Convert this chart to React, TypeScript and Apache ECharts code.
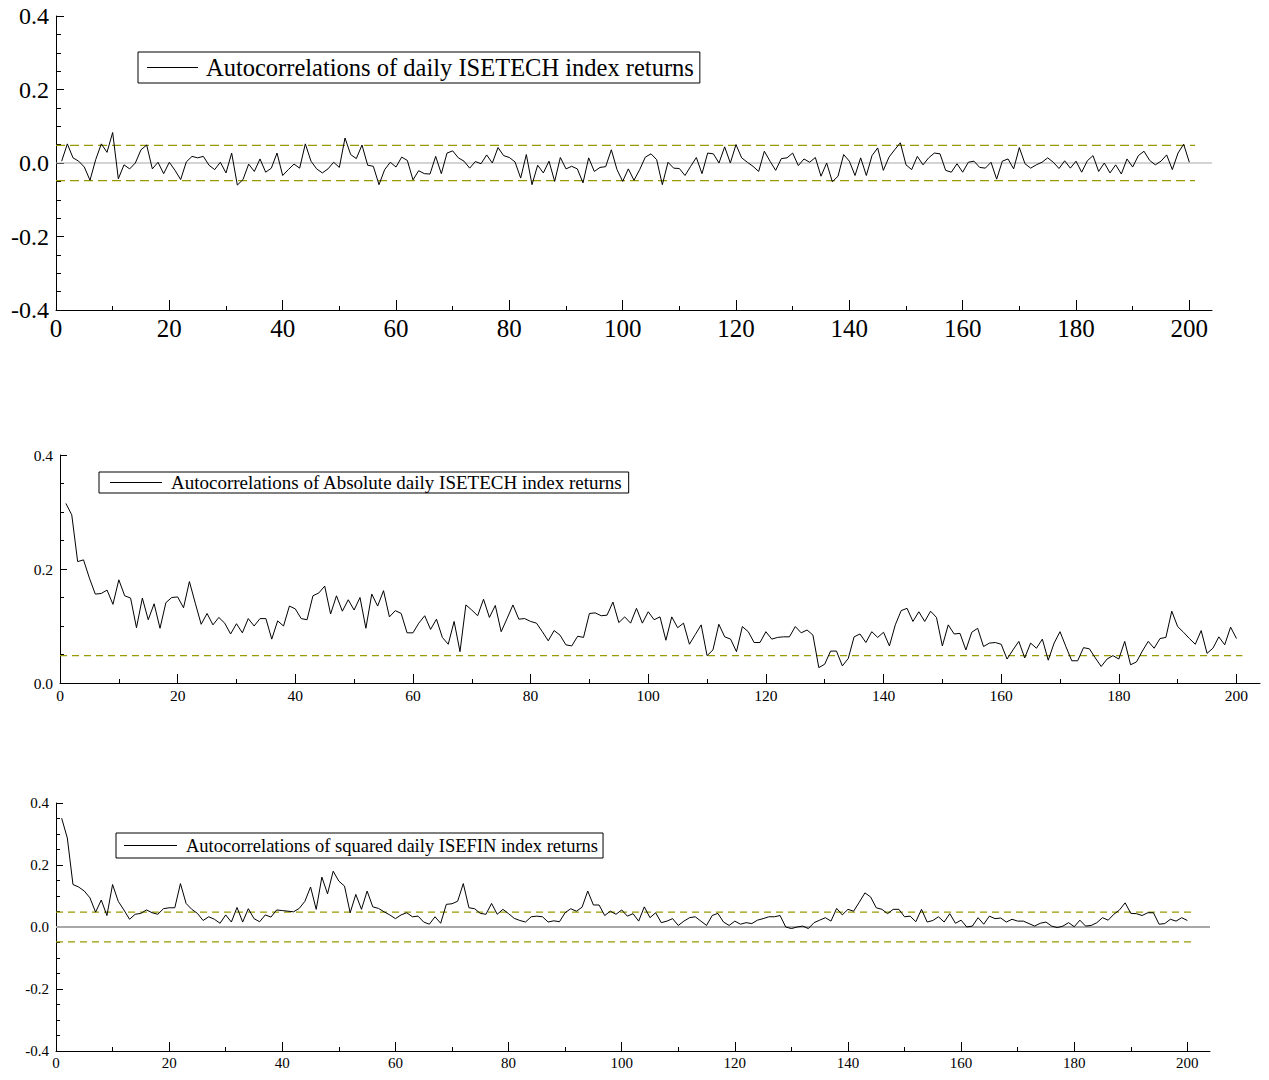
import React, { useEffect, useRef } from "react";
import * as echarts from "echarts";

// Lags 1..200 shared by all three correlograms
const lags: number[] = Array.from({ length: 200 }, (_, i) => i + 1);

const acfReturns: number[] = [
  0.005, 0.052, 0.014, 0.005, -0.011, -0.047, 0.009, 0.052, 0.029, 0.083,
  -0.043, -0.005, -0.016, 0.0, 0.036, 0.049, -0.016, 0.002, -0.029, 0.002,
  -0.02, -0.045, 0.003, 0.018, 0.014, 0.018, -0.006, -0.018, 0.002, -0.027,
  0.027, -0.06, -0.045, -0.003, -0.023, 0.011, -0.025, -0.014, 0.027, -0.034,
  -0.018, -0.003, -0.014, 0.052, 0.005, -0.016, -0.027, -0.016, 0.002, -0.012,
  0.068, 0.023, 0.012, 0.049, -0.006, -0.009, -0.059, -0.018, 0.002, -0.011,
  0.016, 0.007, -0.046, -0.021, -0.029, -0.03, 0.018, -0.029, 0.027, 0.033,
  0.014, 0.005, -0.014, 0.004, -0.002, 0.022, 0.0, 0.042, 0.02, 0.015,
  0.003, -0.041, 0.023, -0.059, -0.006, -0.027, 0.005, -0.05, 0.015, -0.016,
  -0.009, -0.016, -0.054, 0.014, -0.023, -0.012, -0.01, 0.036, -0.018, -0.05,
  -0.016, -0.047, -0.018, 0.016, 0.025, 0.009, -0.059, 0.002, -0.014, -0.015,
  -0.034, -0.009, 0.015, -0.029, 0.027, 0.025, 0.0, 0.044, 0.0, 0.05,
  0.014, 0.002, -0.009, -0.023, 0.032, 0.005, -0.02, 0.012, 0.014, 0.027,
  -0.007, 0.011, 0.002, 0.015, -0.036, 0.0, -0.051, -0.036, 0.023, 0.005,
  -0.034, 0.014, -0.034, 0.02, 0.041, -0.02, 0.016, 0.036, 0.055, -0.005,
  -0.018, 0.018, -0.005, 0.014, 0.027, 0.025, -0.02, -0.025, -0.002, -0.025,
  0.002, 0.005, -0.012, -0.014, 0.002, -0.044, 0.005, 0.011, -0.016, 0.042,
  -0.002, -0.014, -0.005, 0.002, 0.014, 0.002, -0.015, 0.006, -0.014, 0.005,
  -0.025, 0.006, 0.02, -0.023, 0.0, -0.027, -0.005, -0.03, 0.011, -0.011,
  0.02, 0.032, 0.007, -0.005, 0.005, 0.022, -0.018, 0.027, 0.051, 0.002,
];

const acfAbsReturns: number[] = [
  0.315, 0.295, 0.213, 0.216, 0.184, 0.156, 0.157, 0.163, 0.138, 0.181,
  0.153, 0.149, 0.097, 0.149, 0.111, 0.139, 0.096, 0.141, 0.15, 0.151,
  0.132, 0.178, 0.14, 0.103, 0.122, 0.102, 0.115, 0.105, 0.086, 0.104,
  0.088, 0.113, 0.1, 0.113, 0.113, 0.077, 0.109, 0.1, 0.135, 0.13,
  0.113, 0.111, 0.153, 0.158, 0.17, 0.121, 0.153, 0.126, 0.146, 0.128,
  0.15, 0.096, 0.156, 0.135, 0.162, 0.116, 0.127, 0.122, 0.088, 0.088,
  0.105, 0.118, 0.094, 0.112, 0.08, 0.068, 0.108, 0.055, 0.137, 0.128,
  0.118, 0.147, 0.115, 0.136, 0.09, 0.113, 0.137, 0.112, 0.113, 0.108,
  0.105, 0.09, 0.074, 0.092, 0.084, 0.067, 0.065, 0.082, 0.08, 0.122,
  0.123, 0.118, 0.119, 0.142, 0.106, 0.116, 0.105, 0.131, 0.105, 0.125,
  0.111, 0.116, 0.075, 0.116, 0.097, 0.105, 0.068, 0.085, 0.102, 0.048,
  0.058, 0.103, 0.081, 0.077, 0.055, 0.099, 0.09, 0.071, 0.071, 0.09,
  0.077, 0.08, 0.081, 0.081, 0.099, 0.088, 0.093, 0.084, 0.027, 0.033,
  0.056, 0.056, 0.03, 0.043, 0.081, 0.086, 0.071, 0.09, 0.08, 0.089,
  0.065, 0.102, 0.127, 0.131, 0.108, 0.125, 0.108, 0.126, 0.115, 0.065,
  0.102, 0.086, 0.087, 0.058, 0.089, 0.096, 0.064, 0.07, 0.071, 0.068,
  0.042, 0.058, 0.073, 0.044, 0.07, 0.061, 0.077, 0.04, 0.07, 0.09,
  0.064, 0.039, 0.039, 0.062, 0.06, 0.044, 0.029, 0.042, 0.048, 0.042,
  0.073, 0.032, 0.037, 0.056, 0.073, 0.061, 0.078, 0.08, 0.126, 0.099,
  0.089, 0.078, 0.068, 0.092, 0.052, 0.061, 0.081, 0.067, 0.098, 0.078,
];

const acfSqReturns: number[] = [
  0.351, 0.287, 0.137, 0.129, 0.116, 0.094, 0.048, 0.087, 0.037, 0.137,
  0.083, 0.055, 0.025, 0.041, 0.044, 0.055, 0.046, 0.041, 0.059, 0.062,
  0.062, 0.14, 0.076, 0.057, 0.044, 0.021, 0.033, 0.025, 0.012, 0.039,
  0.016, 0.063, 0.016, 0.059, 0.027, 0.017, 0.039, 0.032, 0.055, 0.053,
  0.051, 0.049, 0.06, 0.083, 0.129, 0.057, 0.161, 0.107, 0.18, 0.148,
  0.132, 0.046, 0.105, 0.057, 0.116, 0.065, 0.06, 0.049, 0.039, 0.027,
  0.039, 0.046, 0.033, 0.035, 0.016, 0.009, 0.033, 0.012, 0.073, 0.075,
  0.083, 0.14, 0.062, 0.059, 0.044, 0.041, 0.076, 0.041, 0.057, 0.043,
  0.028, 0.021, 0.016, 0.033, 0.035, 0.033, 0.016, 0.02, 0.017, 0.046,
  0.059, 0.051, 0.064, 0.116, 0.071, 0.071, 0.037, 0.051, 0.041, 0.055,
  0.035, 0.043, 0.019, 0.065, 0.03, 0.046, 0.014, 0.019, 0.027, 0.005,
  0.019, 0.03, 0.033, 0.019, 0.005, 0.037, 0.044, 0.016, 0.005, 0.019,
  0.009, 0.014, 0.011, 0.022, 0.027, 0.033, 0.033, 0.037, 0.0, -0.005,
  0.0, 0.003, -0.005, 0.014, 0.022, 0.03, 0.019, 0.06, 0.039, 0.057,
  0.051, 0.08, 0.11, 0.097, 0.062, 0.057, 0.043, 0.057, 0.057, 0.033,
  0.035, 0.017, 0.057, 0.016, 0.021, 0.033, 0.016, 0.043, 0.012, 0.022,
  0.0, 0.003, 0.03, 0.009, 0.035, 0.027, 0.029, 0.016, 0.025, 0.019,
  0.019, 0.011, 0.003, 0.012, 0.016, 0.003, -0.002, 0.003, 0.014, 0.001,
  0.022, 0.003, 0.005, 0.014, 0.03, 0.022, 0.041, 0.055, 0.078, 0.044,
  0.043, 0.037, 0.046, 0.046, 0.009, 0.011, 0.025, 0.019, 0.03, 0.021,
];

// Approximate 95% band (±2/√T) and reference zero line
const bandLevel = 0.048;
const bandLags: number[] = [0, 201];
const zeroLags: number[] = [0, 204];

const xMajorTicks: number[] = [0, 20, 40, 60, 80, 100, 120, 140, 160, 180, 200];
const xMinorTicks: number[] = [10, 30, 50, 70, 90, 110, 130, 150, 170, 190];

const titles: string[] = [
  "Autocorrelations of daily ISETECH index returns",
  "Autocorrelations of Absolute daily ISETECH index returns",
  "Autocorrelations of squared daily ISEFIN index returns",
];

const FONT = "'Liberation Serif', 'Times New Roman', serif";
const BLACK = "#000";
const OLIVE = "#999900";

type Panel = {
  grid: { left: number; top: number; width: number; height: number };
  yMin: number;
  yMax: number;
  font: number;
  xFont: number;
  xMargin: number;
  values: number[];
  title: string;
  legend: { left: number; top: number; font: number; itemWidth: number; padding: number[]; textPad: number };
  bands: number[];
  zero: boolean;
  dash: number[];
  tickLen: number;
};

const panels: Panel[] = [
  {
    grid: { left: 56, top: 16, width: 1156, height: 294 },
    yMin: -0.4,
    yMax: 0.4,
    font: 24,
    xFont: 25,
    xMargin: 6,
    values: acfReturns,
    title: titles[0],
    legend: { left: 138, top: 52, font: 24.5, itemWidth: 51, padding: [3, 6, 3, 9], textPad: 8 },
    bands: [bandLevel, -bandLevel],
    zero: true,
    dash: [9, 5],
    tickLen: 8,
  },
  {
    grid: { left: 60, top: 455, width: 1200, height: 228 },
    yMin: 0,
    yMax: 0.4,
    font: 15.5,
    xFont: 15.5,
    xMargin: 4,
    values: acfAbsReturns,
    title: titles[1],
    legend: { left: 99, top: 472, font: 19, itemWidth: 52, padding: [1, 6, 1, 11], textPad: 9 },
    bands: [bandLevel],
    zero: false,
    dash: [7, 5],
    tickLen: 7,
  },
  {
    grid: { left: 56, top: 803, width: 1154, height: 248 },
    yMin: -0.4,
    yMax: 0.4,
    font: 15,
    xFont: 15,
    xMargin: 4,
    values: acfSqReturns,
    title: titles[2],
    legend: { left: 116, top: 833, font: 18.5, itemWidth: 53, padding: [3, 5, 3, 8], textPad: 9 },
    bands: [bandLevel, -bandLevel],
    zero: true,
    dash: [7, 5],
    tickLen: 7,
  },
];

function buildOption() {
  const grid: any[] = [];
  const xAxis: any[] = [];
  const yAxis: any[] = [];
  const series: any[] = [];
  const legend: any[] = [];

  panels.forEach((p, i) => {
    grid.push({ ...p.grid, containLabel: false, outerBoundsMode: "none" });

    // major ticks + labels
    xAxis.push({
      type: "value",
      gridIndex: i,
      position: "bottom",
      min: 0,
      max: 204,
      axisLine: { show: true, onZero: false, lineStyle: { color: BLACK, width: 1 } },
      axisTick: {
        show: true,
        inside: true,
        length: p.tickLen + 2,
        customValues: xMajorTicks,
        lineStyle: { color: BLACK, width: 1 },
      },
      axisLabel: {
        customValues: xMajorTicks,
        color: BLACK,
        fontFamily: FONT,
        fontSize: p.xFont,
        margin: p.xMargin,
      },
      splitLine: { show: false },
    });
    // minor ticks only
    xAxis.push({
      type: "value",
      gridIndex: i,
      position: "bottom",
      min: 0,
      max: 204,
      axisLine: { show: false, onZero: false },
      axisTick: {
        show: true,
        inside: true,
        length: Math.round(p.tickLen / 2),
        customValues: xMinorTicks,
        lineStyle: { color: BLACK, width: 1 },
      },
      axisLabel: { show: false },
      splitLine: { show: false },
    });

    yAxis.push({
      type: "value",
      gridIndex: i,
      min: p.yMin,
      max: p.yMax,
      interval: 0.2,
      axisLine: { show: true, onZero: false, lineStyle: { color: BLACK, width: 1 } },
      axisTick: { show: true, inside: true, length: p.tickLen, lineStyle: { color: BLACK, width: 1 } },
      minorTick: { show: true, splitNumber: 4, length: Math.round(p.tickLen * 0.6), lineStyle: { color: BLACK, width: 1 } },
      axisLabel: {
        color: BLACK,
        fontFamily: FONT,
        fontSize: p.font,
        margin: 7,
        formatter: (v: number) => (Math.abs(v) < 1e-9 ? "0.0" : v.toFixed(1)),
      },
      splitLine: { show: false },
    });

    if (p.zero) {
      series.push({
        type: "line",
        name: "zero" + i,
        xAxisIndex: i * 2,
        yAxisIndex: i,
        data: zeroLags.map((l) => [l, 0]),
        symbol: "none",
        silent: true,
        lineStyle: { color: "#a8a8a8", width: i === 2 ? 2 : 1 },
        z: 1,
      });
    }
    p.bands.forEach((b, k) => {
      series.push({
        type: "line",
        name: "band" + i + "_" + k,
        xAxisIndex: i * 2,
        yAxisIndex: i,
        data: bandLags.map((l) => [l, b]),
        symbol: "none",
        silent: true,
        lineStyle: { color: OLIVE, width: 1.3, type: p.dash },
        z: 2,
      });
    });

    series.push({
      type: "line",
      name: p.title,
      xAxisIndex: i * 2,
      yAxisIndex: i,
      data: lags.map((l, k) => [l, p.values[k]]),
      symbol: "none",
      showSymbol: false,
      lineStyle: { color: BLACK, width: 1 },
      itemStyle: { color: BLACK },
      z: 3,
    });

    legend.push({
      data: [p.title],
      left: p.legend.left,
      top: p.legend.top,
      orient: "horizontal",
      backgroundColor: "#fff",
      borderColor: BLACK,
      borderWidth: 1,
      borderRadius: 0,
      padding: p.legend.padding,
      icon: "rect",
      itemWidth: p.legend.itemWidth,
      itemHeight: 1,
      itemGap: 0,
      itemStyle: { color: BLACK, borderWidth: 0 },
      selectedMode: false,
      textStyle: {
        color: BLACK,
        fontFamily: FONT,
        fontSize: p.legend.font,
        padding: [0, 0, 0, p.legend.textPad - 5],
      },
    });
  });

  return {
    animation: false,
    backgroundColor: "#fff",
    grid,
    xAxis,
    yAxis,
    legend,
    series,
  };
}

export default function App() {
  const ref = useRef<HTMLDivElement>(null);

  useEffect(() => {
    if (!ref.current) return;
    const chart = echarts.init(ref.current, undefined, { renderer: "svg" });
    chart.setOption(buildOption() as any);
    return () => chart.dispose();
  }, []);

  return (
    <div
      ref={ref}
      style={{ position: "absolute", left: 0, top: 0, width: 1269, height: 1080, background: "#fff" }}
    />
  );
}
